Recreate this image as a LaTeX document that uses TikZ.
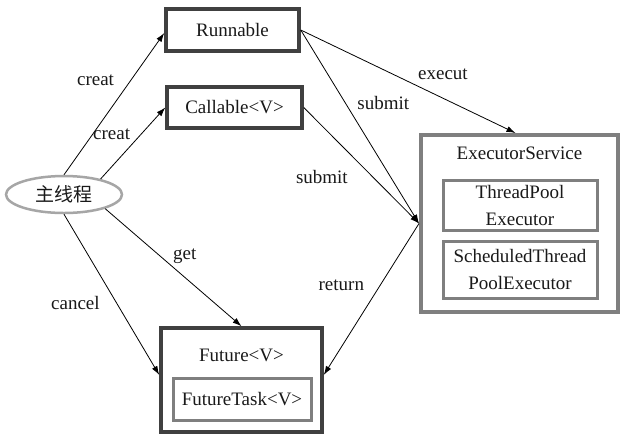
\documentclass[tikz,border=0pt]{standalone}
\usepackage{fontspec}
\setmainfont{Liberation Serif}
\newfontfamily\cjk{Noto Sans CJK SC}
\usetikzlibrary{shapes.geometric,arrows.meta,calc}
\definecolor{darkb}{HTML}{404040}
\definecolor{midb}{HTML}{7F7F7F}
\definecolor{lightb}{HTML}{A6A6A6}
\begin{document}
\begin{tikzpicture}[x=1pt,y=-1pt,
  every node/.style={font=\fontsize{19}{27}\selectfont, text=black!90},
  darkbox/.style={draw=darkb, line width=3.5pt, rectangle, inner sep=0pt},
  graybox/.style={draw=midb, line width=3pt, rectangle, inner sep=0pt, align=center},
  conn/.style={draw=black, line width=0.8pt, -{Latex[length=9pt,width=6pt]}},
  lbl/.style={inner sep=0pt}
]
\useasboundingbox[fill=white] (0,0) rectangle (623,437);
\node[darkbox, minimum width=133pt, minimum height=42pt] (run) at (232.5,30) {Runnable};
\node[darkbox, minimum width=135pt, minimum height=41pt] (cal) at (234.5,107.5) {Callable<V>};
\node[draw=lightb, line width=2.5pt, ellipse, minimum width=116pt, minimum height=37pt, inner sep=0pt] (ell) at (64,194.5) {\cjk 主线程};
\node[graybox, line width=4pt, minimum width=197pt, minimum height=177pt] (es) at (519.5,223.5) {};
\node (estext) at ($(es.north)+(0,20)$) {ExecutorService};
\node[graybox, minimum width=154pt, minimum height=50pt] (tp) at (520,205) {ThreadPool\\Executor};
\node[graybox, minimum width=154pt, minimum height=57pt] (sch) at (520,269.5) {ScheduledThread\\PoolExecutor};
\node[darkbox, minimum width=161pt, minimum height=104pt] (fut) at (241.5,380) {};
\node (futtext) at ($(fut.north)+(0,29)$) {Future<V>};
\node[graybox, minimum width=138pt, minimum height=42pt] (ft) at (242,399) {FutureTask<V>};

\draw[conn] (ell.north) -- node[lbl, pos=0.664, xshift=-35pt]{creat} ($(run.west)+(0,3)$);
\draw[conn] (ell.23) -- node[lbl, pos=0.62, xshift=-29pt]{creat} (cal.west);
\draw[conn] (run.east) -- node[lbl, pos=0.662, yshift=23.5pt]{execut} ($(es.north)+(-4,0)$);
\draw[conn] (run.east) -- node[lbl, pos=0.377, xshift=38pt]{submit} (es.west);
\draw[conn] (cal.east) -- node[lbl, pos=0.6, xshift=-51pt]{submit} (es.west);
\draw[conn] (es.west) -- node[lbl, pos=0.406, xshift=-39pt]{return} ($(fut.east)+(0,-5)$);
\draw[conn] (ell.-19) -- node[lbl, pos=0.4, xshift=25pt]{get} (fut.north);
\draw[conn] (ell.south) -- node[lbl, pos=0.55, xshift=-41pt]{cancel} ($(fut.west)+(0,-5)$);
\end{tikzpicture}
\end{document}
